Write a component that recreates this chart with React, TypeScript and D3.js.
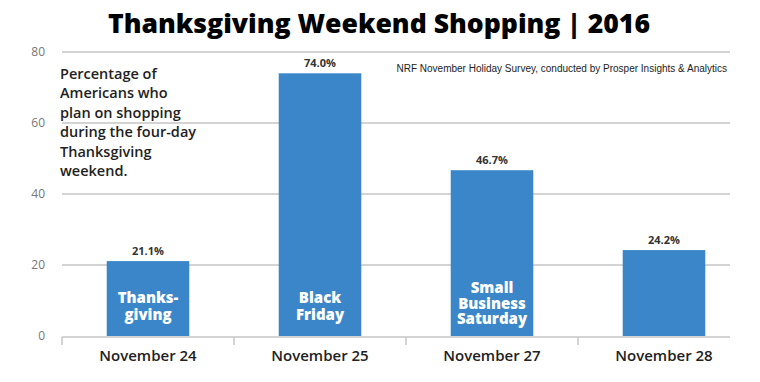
import React from "react";
import * as d3 from "d3";

const categories = ["November 24", "November 25", "November 27", "November 28"];
const values = [21.1, 74.0, 46.7, 24.2];
const barLabels = [["Thanks-", "giving"], ["Black", "Friday"], ["Small", "Business", "Saturday"], []];
const yTicks = [0, 20, 40, 60, 80];
const noteLines = ["Percentage of", "Americans who", "plan on shopping", "during the four-day", "Thanksgiving", "weekend."];

const W = 760, H = 382;

export default function App() {
  const x = d3.scaleBand<string>().domain(categories).range([62, 750]).paddingInner(0.52).paddingOuter(0.26);
  const band = d3.scaleBand<string>().domain(categories).range([62, 750]);
  const y = d3.scaleLinear().domain([0, 80]).range([336, 52]);
  const font = "'Open Sans', sans-serif";
  return (
    <div style={{ position: "absolute", left: 0, top: 0 }}>
      <svg width={W} height={H} style={{ display: "block", background: "#fff" }}>
        <text x={379} y={33} textAnchor="middle" fontFamily={font} fontWeight={800} fontSize={27}
          textLength={542} lengthAdjust="spacingAndGlyphs" fill="#000">
          Thanksgiving Weekend Shopping | 2016
        </text>
        {yTicks.map((t) => (
          <g key={t}>
            {t > 0 && <line x1={62} x2={730} y1={y(t)} y2={y(t)} stroke="#c4c4c4" strokeWidth={1.5} />}
            <text x={45} y={y(t) + 4} textAnchor="end" fontFamily={font} fontSize={12} fill="#777">{t}</text>
          </g>
        ))}
        {categories.map((c, i) => (
          <g key={c}>
            <rect x={x(c)} y={y(values[i])} width={x.bandwidth()} height={y(0) - y(values[i])} fill="#3B86C9" />
            <text x={x(c)! + x.bandwidth() / 2} y={y(values[i]) - 6} textAnchor="middle" fontFamily={font} fontWeight={700} fontSize={11} fill="#333">
              {values[i].toFixed(1)}%
            </text>
            {barLabels[i].map((l, j) => (
              <text key={j} x={x(c)! + x.bandwidth() / 2}
                y={(barLabels[i].length === 3 ? 293 : 303) + j * (barLabels[i].length === 3 ? 15.5 : 17)}
                textAnchor="middle" fontFamily={font} fontWeight={800} fontSize={15} fill="#fff">{l}</text>
            ))}
            <text x={band(c)! + band.bandwidth() / 2} y={361} textAnchor="middle" fontFamily={font} fontWeight={600} fontSize={15} fill="#222">{c}</text>
          </g>
        ))}
        <line x1={62} x2={730} y1={337} y2={337} stroke="#c4c4c4" strokeWidth={1.5} />
        {categories.map((c) => (
          <line key={c} x1={band(c)} x2={band(c)} y1={337} y2={345} stroke="#c4c4c4" strokeWidth={1.5} />
        ))}
        {noteLines.map((l, i) => (
          <text key={i} x={60} y={79 + i * 19.4} fontFamily={font} fontWeight={600} fontSize={14.5} fill="#222">{l}</text>
        ))}
        <text x={727} y={72} textAnchor="end" fontFamily="'Liberation Sans', Arial, sans-serif" fontSize={10} fill="#222">
          NRF November Holiday Survey, conducted by Prosper Insights &amp; Analytics
        </text>
      </svg>
    </div>
  );
}
